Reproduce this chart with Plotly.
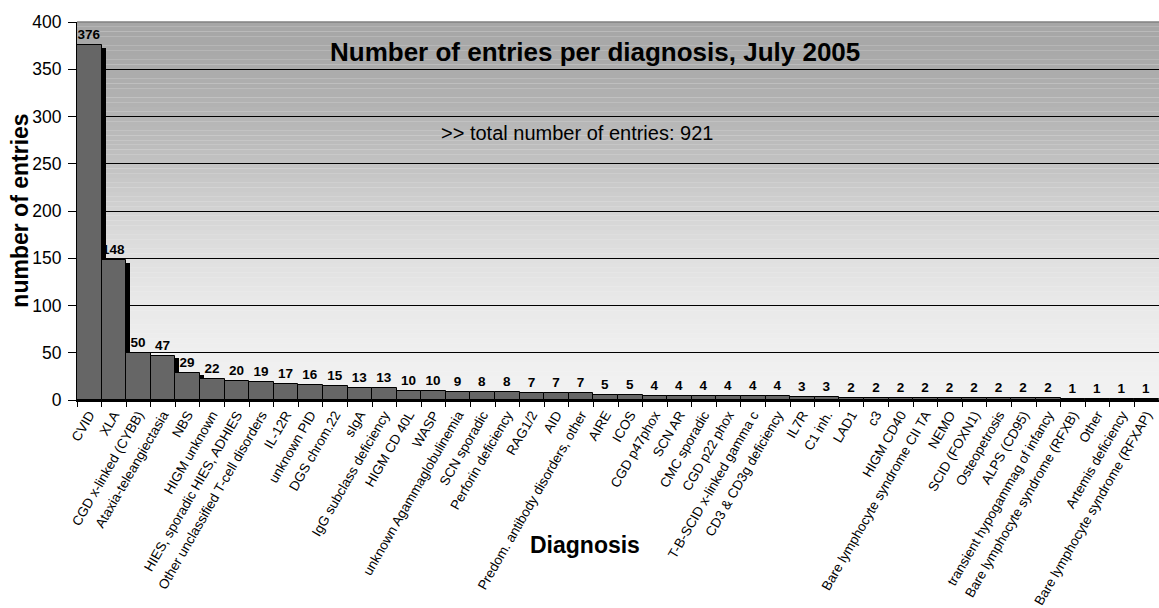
import plotly.graph_objects as go

categories = [
    "CVID", "XLA", "CGD x-linked (CYBB)", "Ataxia-teleangiectasia", "NBS",
    "HIGM unknown", "HIES, sporadic HIES, ADHIES", "Other unclassified T-cell disorders",
    "IL-12R", "unknown PID", "DGS chrom.22", "sIgA", "IgG subclass deficiency",
    "HIGM CD 40L", "WASP", "unknown Agammaglobulinemia", "SCN sporadic",
    "Perforin deficiency", "RAG1/2", "AID", "Predom. antibody disorders, other",
    "AIRE", "ICOS", "CGD p47phox", "SCN AR", "CMC sporadic", "CGD p22 phox",
    "T-B-SCID x-linked gamma c", "CD3 & CD3g deficiency", "IL7R", "C1 inh.",
    "LAD1", "c3", "HIGM CD40", "Bare lymphocyte syndrome CII TA", "NEMO",
    "SCID (FOXN1)", "Osteopetrosis", "ALPS (CD95)", "transient hypogammag of infancy",
    "Bare lymphocyte syndrome (RFXB)", "Other", "Artemis deficiency",
    "Bare lymphocyte syndrome (RFXAP)",
]
counts = [376, 148, 50, 47, 29, 22, 20, 19, 17, 16, 15, 13, 13, 10, 10, 9, 8, 8,
          7, 7, 7, 5, 5, 4, 4, 4, 4, 4, 4, 3, 3, 2, 2, 2, 2, 2, 2, 2, 2, 2,
          1, 1, 1, 1]
y_ticks = [0, 50, 100, 150, 200, 250, 300, 350, 400]

FONT = "Arial, 'Liberation Sans', sans-serif"

fig = go.Figure()
# shadow
fig.add_trace(go.Bar(
    x=categories, y=counts, base=-3, width=1, offset=-0.34,
    marker=dict(color="black", line=dict(width=0)),
    hoverinfo="skip", showlegend=False,
))
fig.add_trace(go.Bar(
    x=categories, y=counts, width=1, offset=-0.5,
    marker=dict(color="#666666", line=dict(color="black", width=1)),
    text=[str(v) for v in counts], textposition="outside",
    textfont=dict(family=FONT, size=13.5, color="black"),
    texttemplate="<b>%{text}</b>", cliponaxis=False, showlegend=False,
))

# gradient background bands
stops = [(0, 242), (50, 239), (100, 233), (175, 219), (250, 194), (300, 181), (350, 171), (400, 166)]
def shade(v):
    for (a, ca), (b, cb) in zip(stops[:-1], stops[1:]):
        if a <= v <= b:
            return ca + (cb - ca) * (v - a) / (b - a)
    return stops[-1][1]
shapes = []
step = 5
for k in range(0, 400, step):
    c = int(round(shade(k + step / 2)))
    shapes.append(dict(type="rect", xref="x domain", yref="y", x0=0, x1=1,
                       y0=k, y1=k + step, layer="below",
                       fillcolor=f"rgb({c},{c},{c})", line=dict(width=0)))
shapes.append(dict(type="line", xref="x domain", yref="y domain", x0=0, x1=1, y0=1, y1=1,
                   line=dict(color="#808080", width=1.5)))

fig.update_layout(
    width=1159, height=608,
    margin=dict(l=77, r=0, t=22, b=208),
    paper_bgcolor="white", plot_bgcolor="#f2f2f2",
    barmode="overlay", bargap=0,
    shapes=shapes,
    font=dict(family=FONT, color="black"),
    annotations=[
        dict(text="<b>Number of entries per diagnosis, July 2005</b>", xref="paper", yref="paper",
             x=0.4785, y=0.921, xanchor="center", yanchor="middle", showarrow=False,
             font=dict(size=26, family=FONT)),
        dict(text=">> total number of entries: 921", xref="paper", yref="paper",
             x=0.462, y=0.706, xanchor="center", yanchor="middle", showarrow=False,
             font=dict(size=20, family=FONT)),
        dict(text="<b>Diagnosis</b>", xref="paper", yref="paper",
             x=0.4695, y=-0.384, xanchor="center", yanchor="middle", showarrow=False,
             font=dict(size=23, family=FONT)),
        dict(text="<b>number of entries</b>", xref="paper", yref="paper",
             x=-0.053, y=0.5, xanchor="center", yanchor="middle", showarrow=False,
             textangle=-90, font=dict(size=23, family=FONT)),
    ],
)
fig.update_xaxes(
    type="category", tickangle=-60,
    range=[-0.5, len(categories) - 0.5],
    tickfont=dict(size=13.5, family=FONT),
    showline=True, linecolor="black", linewidth=1.5,
    ticks="outside", tickson="boundaries", ticklen=5, tickcolor="black",
    showgrid=False, zeroline=False,
)
fig.update_yaxes(
    range=[0, 400], tickvals=y_ticks,
    tickfont=dict(size=17.5, family=FONT),
    showline=True, linecolor="black", linewidth=1,
    ticks="outside", ticklen=8, tickcolor="black", ticklabelstandoff=3,
    showgrid=True, gridcolor="black", gridwidth=1, zeroline=False,
)

fig.write_html("out.html")
